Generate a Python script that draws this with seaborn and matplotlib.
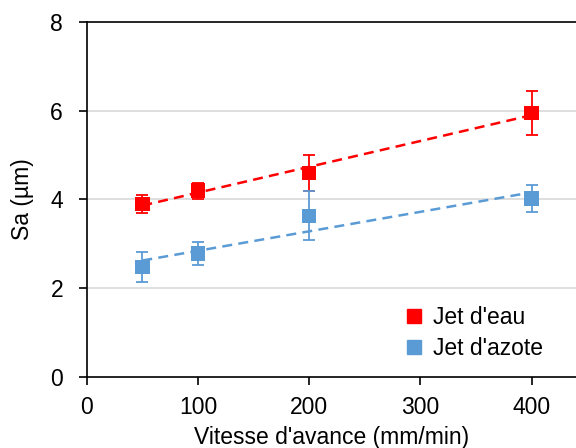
import numpy as np
import pandas as pd
import matplotlib
matplotlib.use('Agg')
import matplotlib.pyplot as plt
import seaborn as sns
from matplotlib.lines import Line2D

# Values
vitesse = [50, 100, 200, 400]
sa_eau = [3.90, 4.20, 4.60, 5.95]
err_eau = [0.20, 0.18, 0.40, 0.50]
sa_azote = [2.48, 2.78, 3.63, 4.02]
err_azote = [0.33, 0.26, 0.55, 0.30]
series_names = ["Jet d'eau", "Jet d'azote"]

red = '#FF0000'
blue = '#5B9BD5'

df = pd.DataFrame({
    'vitesse': vitesse * 2,
    'sa': sa_eau + sa_azote,
    'err': err_eau + err_azote,
    'serie': [series_names[0]] * 4 + [series_names[1]] * 4,
})

sns.set_style('white')
plt.rcParams['font.family'] = ['Liberation Sans', 'DejaVu Sans']
plt.rcParams['text.color'] = 'black'
plt.rcParams['axes.labelcolor'] = 'black'
plt.rcParams['xtick.color'] = 'black'
plt.rcParams['ytick.color'] = 'black'
fs = 16.5

fig = plt.figure(figsize=(5.76, 4.48), dpi=100)
ax = fig.add_axes([0.1505, 0.1585, 0.8495, 0.7925])

# Gridlines behind everything
for yv in [2, 4, 6]:
    ax.axhline(yv, color='#D9D9D9', lw=1.2, zorder=0)

palette = {series_names[0]: red, series_names[1]: blue}

# Dashed linear trend lines
for name in series_names:
    sub = df[df['serie'] == name]
    sns.regplot(data=sub, x='vitesse', y='sa', ci=None, scatter=False, ax=ax,
                truncate=True,
                line_kws=dict(color=palette[name], ls=(0, (4, 2.5)), lw=1.8, zorder=2))

# Error bars
for name in series_names:
    sub = df[df['serie'] == name]
    ax.errorbar(sub['vitesse'], sub['sa'], yerr=sub['err'], fmt='none',
                ecolor=palette[name], elinewidth=1.3, capsize=4, capthick=1.3, zorder=3)

# Square markers
sns.scatterplot(data=df, x='vitesse', y='sa', hue='serie', palette=palette,
                marker='s', s=110, linewidth=0, ax=ax, legend=False, zorder=4)

ax.set_xlim(0, 440)
ax.set_ylim(0, 8)
ax.set_xticks([0, 100, 200, 300, 400])
ax.set_yticks([0, 2, 4, 6, 8])
ax.tick_params(axis='both', labelsize=fs, length=6, width=1.2, direction='out',
               color='black', labelcolor='black', bottom=True, left=True)
ax.tick_params(axis='x', pad=8)
ax.tick_params(axis='y', pad=11)
ax.set_xlabel("Vitesse d'avance (mm/min)", fontsize=fs, labelpad=5)
ax.set_ylabel('Sa (µm)', fontsize=fs, labelpad=12)

for side in ['left', 'bottom', 'top']:
    ax.spines[side].set_color('black')
    ax.spines[side].set_linewidth(1.2)
ax.spines['right'].set_visible(False)

handles = [Line2D([], [], marker='s', ls='none', color=palette[n], markersize=9.5)
           for n in series_names]
ax.legend(handles, series_names, loc='upper left', bbox_to_anchor=(0.615, 0.225),
          frameon=False, fontsize=fs, handletextpad=0.1, labelspacing=0.35,
          handlelength=1.5, borderaxespad=0)

fig.savefig('out.png', dpi=100)
